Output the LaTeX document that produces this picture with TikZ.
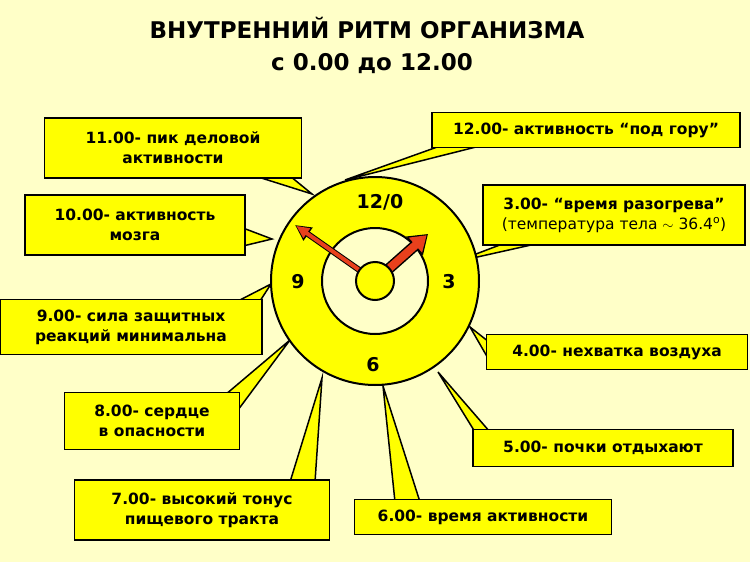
\documentclass[tikz,border=0pt]{standalone}
\usepackage{fontspec}
\setmainfont{DejaVu Sans}
\usetikzlibrary{arrows.meta}
\definecolor{cream}{HTML}{FFFFC8}
\definecolor{boxyellow}{HTML}{FFFF00}
\definecolor{handred}{HTML}{E8401C}
\tikzset{
  callout/.style={draw=black, line width=1.8pt, fill=boxyellow, align=center,
    font=\bfseries\fontsize{15.5}{20}\selectfont, inner sep=0pt},
  wedge/.style={draw=black, line width=1.5pt, fill=boxyellow, line join=miter},
  hour/.style={font=\bfseries\fontsize{19}{22}\selectfont}
}
\begin{document}
\begin{tikzpicture}[x=1pt,y=-1pt]
\fill[cream] (0,0) rectangle (750,562);
\useasboundingbox (0,0) rectangle (750,562);

\node[font=\bfseries\fontsize{23}{26}\selectfont] (title) at (367,28) {ВНУТРЕННИЙ РИТМ ОРГАНИЗМА};
\node[font=\bfseries\fontsize{23}{26}\selectfont] (subtitle) at (372,64) {с 0.00 до 12.00};

% pointers
\draw[wedge] (255,176) -- (290,176) -- (312,194) -- cycle;
\draw[wedge] (440,146) -- (480,146) -- (345,180) -- cycle;
\draw[wedge] (505,243) -- (540,243) -- (455,262) -- cycle;
\draw[wedge] (243,228) -- (243,246) -- (272,239) -- cycle;
\draw[wedge] (238,301) -- (260,301) -- (271,284) -- cycle;
\draw[wedge] (489,342) -- (489,360) -- (470,327) -- cycle;
\draw[wedge] (225,395) -- (238,410) -- (290,340) -- cycle;
\draw[wedge] (475,432) -- (490,432) -- (438,372) -- cycle;
\draw[wedge] (290,482) -- (315,482) -- (322,378) -- cycle;
\draw[wedge] (395,502) -- (420,502) -- (383,386) -- cycle;

% callouts
\node[callout, minimum width=257pt, minimum height=60pt] (b11) at (173,148) {11.00- пик деловой\\активности};
\node[callout, minimum width=308pt, minimum height=35pt] (b12) at (586,130) {12.00- активность “под гору”};
\node[callout, minimum width=262pt, minimum height=60pt] (b3) at (614,215) {3.00- “время разогрева”\\{\mdseries (температура тела $\sim$ 36.4\textsuperscript{o})}};
\node[callout, minimum width=220pt, minimum height=60pt] (b10) at (135,225) {10.00- активность\\мозга};
\node[callout, minimum width=262pt, minimum height=55pt] (b9) at (131,327) {9.00- сила защитных\\реакций минимальна};
\node[callout, minimum width=261pt, minimum height=35pt] (b4) at (617,352) {4.00- нехватка воздуха};
\node[callout, minimum width=175pt, minimum height=57pt] (b8) at (152,421) {8.00- сердце\\в опасности};
\node[callout, minimum width=260pt, minimum height=37pt] (b5) at (603,448) {5.00- почки отдыхают};
\node[callout, minimum width=255pt, minimum height=60pt] (b7) at (202,510) {7.00- высокий тонус\\пищевого тракта};
\node[callout, minimum width=257pt, minimum height=35pt] (b6) at (483,517) {6.00- время активности};

% clock
\coordinate (c) at (375,281);
\draw[line width=2pt, fill=boxyellow] (c) circle (104);
\draw[line width=2pt, fill=cream] (c) circle (53);
\node[hour] (h12) at (380,202) {12/0};
\node[hour] (h9) at (298,282) {9};
\node[hour] (h3) at (449,282) {3};
\node[hour] (h6) at (373,365) {6};
\coordinate (tipl) at (295,225);
\coordinate (tips) at (428,234);
\draw[line width=6pt, -{Triangle[width=15pt,length=16pt]}] (c) -- (tipl);
\draw[line width=4pt, handred, -{Triangle[width=11pt,length=13pt]}, shorten >=1.4pt] (c) -- (tipl);
\draw[line width=11pt, -{Triangle[width=24pt,length=18pt]}] (c) -- (tips);
\draw[line width=8pt, handred, -{Triangle[width=19pt,length=15pt]}, shorten >=1.8pt] (c) -- (tips);
\draw[line width=2pt, fill=boxyellow] (c) circle (19);
\end{tikzpicture}
\end{document}
